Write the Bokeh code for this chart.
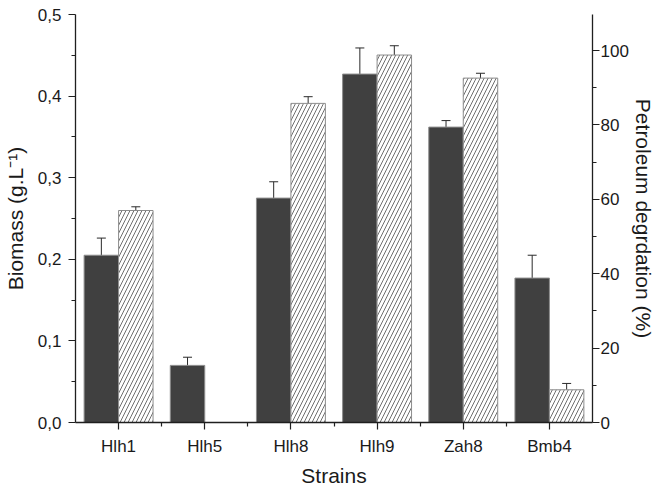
from bokeh.plotting import figure
from bokeh.models import (ColumnDataSource, LinearAxis, Range1d, FixedTicker,
                          CustomJSTickFormatter, Whisker, TeeHead)
from bokeh.embed import file_html
from bokeh.resources import INLINE

strains = ["Hlh1", "Hlh5", "Hlh8", "Hlh9", "Zah8", "Bmb4"]
biomass = [0.205, 0.070, 0.275, 0.427, 0.362, 0.177]
biomass_err = [0.021, 0.010, 0.020, 0.032, 0.008, 0.028]
degradation = [57.0, float("nan"), 85.8, 98.8, 92.6, 8.8]
degradation_err = [1.0, float("nan"), 1.8, 2.5, 1.3, 1.7]

pos = list(range(1, len(strains) + 1))
off = 0.2
bw = 0.4

FONT = "Liberation Sans"
TXT = "#1a1a1a"
AX = "#1f1f1f"

p = figure(width=657, height=489, x_range=Range1d(0.5, 6.5), y_range=Range1d(0, 0.5),
           output_backend="svg", toolbar_location=None,
           min_border_left=75, min_border_right=0, min_border_top=14, min_border_bottom=64)
p.extra_y_ranges = {"deg": Range1d(0, 109.7)}
p.outline_line_color = None
p.xgrid.visible = False
p.ygrid.visible = False

src_b = ColumnDataSource(dict(x=[v - off for v in pos], top=biomass,
                              lo=[b - e for b, e in zip(biomass, biomass_err)],
                              hi=[b + e for b, e in zip(biomass, biomass_err)]))
src_d = ColumnDataSource(dict(x=[v + off for v in pos], top=degradation,
                              lo=[d - e for d, e in zip(degradation, degradation_err)],
                              hi=[d + e for d, e in zip(degradation, degradation_err)]))

p.vbar(x="x", top="top", width=bw, bottom=0, source=src_b,
       fill_color="#404040", line_color="#8c8c8c", line_width=1)
p.vbar(x="x", top="top", width=bw, bottom=0, source=src_d, y_range_name="deg",
       fill_color="white", line_color="#8c8c8c", line_width=1,
       hatch_pattern="/", hatch_color="#4a4a4a", hatch_scale=8, hatch_weight=0.8)

def whisker(src, **kw):
    return Whisker(base="x", lower="lo", upper="hi", source=src, line_color="#2a2a2a", line_width=1,
                   upper_head=TeeHead(size=9, line_color="#2a2a2a", line_width=1),
                   lower_head=TeeHead(size=9, line_color="#2a2a2a", line_width=1), **kw)

p.add_layout(whisker(src_b))
p.add_layout(whisker(src_d, y_range_name="deg"))

xa = p.xaxis[0]
xa.ticker = FixedTicker(ticks=pos, minor_ticks=[v + 0.5 for v in pos[:-1]])
xa.major_label_overrides = {v: s for v, s in zip(pos, strains)}
xa.axis_label = "Strains"

ya = p.yaxis[0]
ya.ticker = FixedTicker(ticks=[0, 0.1, 0.2, 0.3, 0.4, 0.5],
                        minor_ticks=[0.05, 0.15, 0.25, 0.35, 0.45])
ya.formatter = CustomJSTickFormatter(code="return tick.toFixed(1).replace('.', ',');")
ya.axis_label = "Biomass (g.L\u207b\u00b9)"

ra = LinearAxis(y_range_name="deg", axis_label="Petroleum degrdation (%)")
ra.ticker = FixedTicker(ticks=[0, 20, 40, 60, 80, 100],
                        minor_ticks=[10, 30, 50, 70, 90])
p.add_layout(ra, "right")

for ax in [xa, ya, ra]:
    ax.axis_line_color = AX
    ax.axis_line_width = 1.3
    ax.major_tick_line_color = AX
    ax.minor_tick_line_color = AX
    ax.major_tick_line_width = 1.2
    ax.minor_tick_line_width = 1.2
    ax.major_tick_out = 7
    ax.major_tick_in = 0
    ax.minor_tick_out = 4
    ax.minor_tick_in = 0
    ax.major_label_text_font = FONT
    ax.major_label_text_font_size = "17px"
    ax.major_label_text_color = TXT
    ax.axis_label_text_font = FONT
    ax.axis_label_text_font_size = "21px"
    ax.axis_label_text_font_style = "normal"
    ax.axis_label_text_color = TXT

xa.major_label_standoff = 7
xa.axis_label_standoff = 5
ya.major_label_standoff = 7
ya.axis_label_standoff = 8
ra.major_label_standoff = 1
ra.axis_label_standoff = 0

open("out.html", "w").write(file_html(p, INLINE))
